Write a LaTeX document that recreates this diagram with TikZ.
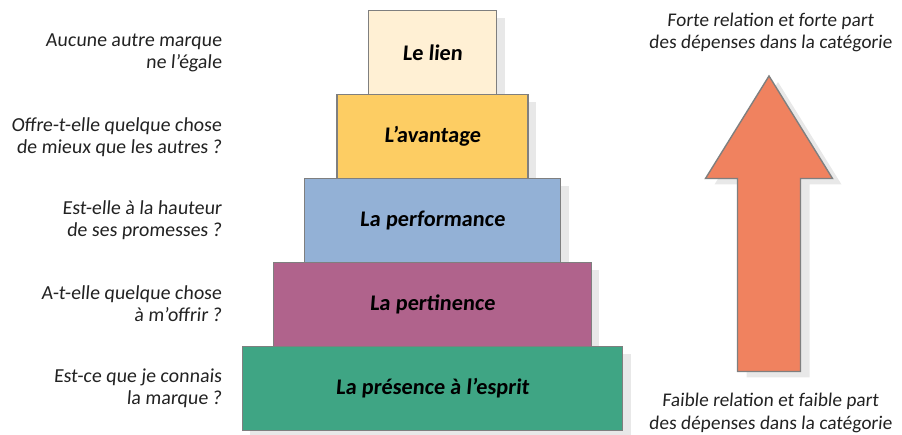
\documentclass[tikz,border=0pt]{standalone}
\usepackage{fontspec}
\setmainfont{Carlito}[FakeSlant=0.08]
\usepackage{xcolor}
\usepackage{tikz}
\usetikzlibrary{shadows}
\definecolor{LinkCream}{HTML}{FFF0D4}
\definecolor{EdgeYellow}{HTML}{FDCD63}
\definecolor{PerfBlue}{HTML}{93B1D6}
\definecolor{RelevMauve}{HTML}{B0638C}
\definecolor{PresGreen}{HTML}{3FA584}
\definecolor{ArrowSalmon}{HTML}{F0825F}
\definecolor{EdgeGrey}{HTML}{7F7F7F}
\definecolor{ShadowGrey}{HTML}{E8E8E8}
\definecolor{TextGrey}{HTML}{222222}
\tikzset{
  tier/.style={
    draw=EdgeGrey,line width=0.8pt,minimum height=1.68cm,inner sep=3pt,
    font=\fontsize{12.7}{15}\selectfont\bfseries\color{black},
    general shadow={fill=ShadowGrey,shadow xshift=0.16cm,shadow yshift=-0.16cm}
  },
  question/.style={
    anchor=east,align=right,inner sep=0pt,
    font=\fontsize{11.3}{12.6}\selectfont,text=TextGrey
  },
  relation/.style={
    align=center,inner sep=0pt,
    font=\fontsize{11}{12.8}\selectfont,text=TextGrey
  },
}
\begin{document}
\begin{tikzpicture}
  \useasboundingbox (0,0) rectangle (18.04,8.70);
  \node[tier, fill=LinkCream, minimum width=2.57cm] (lien) at (8.65, 7.65) {Le lien};
  \node[tier, fill=EdgeYellow, minimum width=3.82cm] (avantage) at (8.65, 5.97) {L’avantage};
  \node[tier, fill=PerfBlue, minimum width=5.13cm] (perf) at (8.65, 4.29) {La performance};
  \node[tier, fill=RelevMauve, minimum width=6.35cm] (pertin) at (8.65, 2.61) {La pertinence};
  \node[tier, fill=PresGreen, minimum width=7.61cm] (presence) at (8.65, 0.93) {La présence à l’esprit};
  \node[question] (q1) at (4.44, 7.65) {Aucune autre marque\\ne l’égale};
  \node[question] (q2) at (4.44, 5.95) {Offre-t-elle quelque chose\\de mieux que les autres ?};
  \node[question] (q3) at (4.44, 4.29) {Est-elle à la hauteur\ \\de ses promesses ?};
  \node[question] (q4) at (4.44, 2.62) {A-t-elle quelque chose\\à m’offrir ?};
  \node[question] (q5) at (4.44, 0.93) {Est-ce que je connais\\la marque ?};
  % Arrow of growing relation
  \draw[draw=EdgeGrey, line width=0.8pt, fill=ArrowSalmon,
        general shadow={fill=ShadowGrey,shadow xshift=0.18cm,shadow yshift=-0.12cm}]
    (15.38,7.18) -- (16.65,5.13) -- (16.01,5.13) -- (16.01,1.27)
    -- (14.75,1.27) -- (14.75,5.13) -- (14.11,5.13) -- cycle;
  \node[relation] (forte) at (15.41, 8.05) {Forte relation et forte part\\des dépenses dans la catégorie};
  \node[relation] (faible) at (15.41, 0.44) {Faible relation et faible part\\des dépenses dans la catégorie};
\end{tikzpicture}
\end{document}
